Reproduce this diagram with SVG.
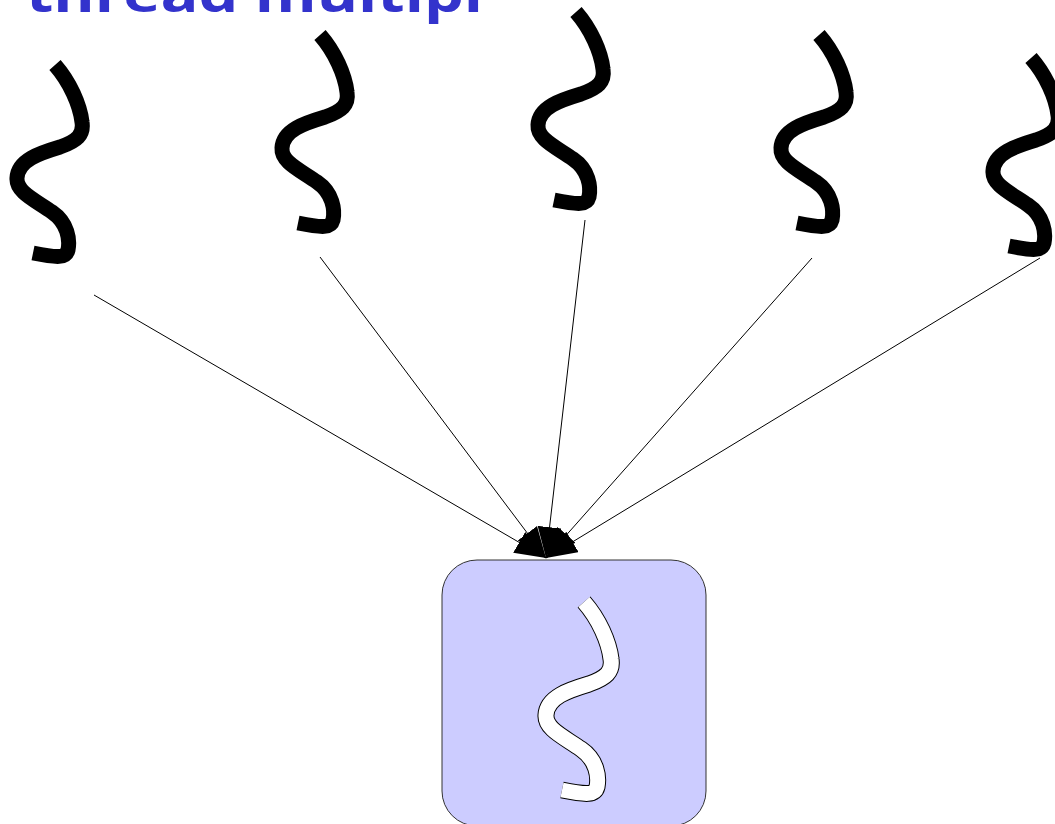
<svg xmlns="http://www.w3.org/2000/svg" width="1055" height="824" viewBox="0 0 1055 824">
<style>
.title{font-family:"Open Sans","Liberation Sans",sans-serif;font-weight:bold;font-size:50px;fill:#3333cc}
.thread{fill:none;stroke:#000;stroke-width:15;stroke-linecap:butt;stroke-linejoin:round}
.conn{fill:none;stroke:#000;stroke-width:1}
.box{fill:#ccccff;stroke:#333;stroke-width:1}
.wout{fill:none;stroke:#000;stroke-width:17;stroke-linejoin:miter}
.win{fill:none;stroke:#fff;stroke-width:15;stroke-linejoin:miter}
</style>
<defs>
<path id="sq" d="M55,65 C70,82 80,105 82,122 C84,135 77,141 60,147 C40,153 18,160 17,178 C16,192 35,200 52,212 C68,223 70,240 68,250 C66,258 58,258 33,253"/>
<marker id="ah" markerUnits="userSpaceOnUse" markerWidth="34" markerHeight="26" refX="31" refY="12" orient="auto">
<path d="M0,0 L31,12 L0,24 z" fill="#000"/>
</marker>
</defs>
<rect width="1055" height="824" fill="#fff"/>
<text class="title" x="26" y="12" textLength="457" lengthAdjust="spacingAndGlyphs">thread multipl</text>
<g id="connectors">
<line class="conn" x1="94" y1="295" x2="546" y2="558" marker-end="url(#ah)"/>
<line class="conn" x1="320" y1="257" x2="546" y2="558" marker-end="url(#ah)"/>
<line class="conn" x1="585" y1="220" x2="546" y2="558" marker-end="url(#ah)"/>
<line class="conn" x1="812" y1="258" x2="546" y2="558" marker-end="url(#ah)"/>
<line class="conn" x1="1040" y1="258" x2="546" y2="558" marker-end="url(#ah)"/>
</g>
<g id="thread1"><use href="#sq" class="thread"/></g>
<g id="thread2"><use href="#sq" class="thread" transform="translate(265,-30)"/></g>
<g id="thread3"><use href="#sq" class="thread" transform="translate(521,-53)"/></g>
<g id="thread4"><use href="#sq" class="thread" transform="translate(764,-30)"/></g>
<g id="thread5"><use href="#sq" class="thread" transform="translate(976,-7)"/></g>
<g id="multiplexer">
<rect class="box" x="442" y="560" width="264" height="266" rx="35" ry="35"/>
<use href="#sq" class="wout" transform="translate(529,537)"/>
<use href="#sq" class="win" transform="translate(529,537)"/>
</g>
</svg>
